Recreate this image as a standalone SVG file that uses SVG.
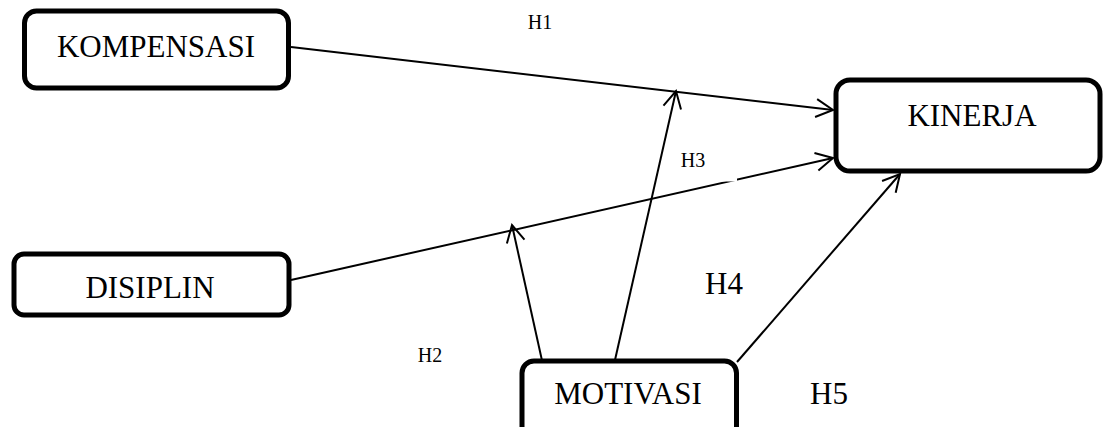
<svg xmlns="http://www.w3.org/2000/svg" width="1104" height="427" viewBox="0 0 1104 427">
  <style>
    .box { fill: #ffffff; stroke: #000000; stroke-width: 5; }
    .lbl { font-family: "Liberation Serif", "Times New Roman", serif; fill: #000000; text-anchor: middle; }
    .big { font-size: 31px; }
    .small { font-size: 20px; }
    .conn { stroke: #000000; stroke-width: 2; fill: none; }
  </style>
  <defs>
    <marker id="arrow" markerUnits="userSpaceOnUse" viewBox="-20 -12 24 24" markerWidth="24" markerHeight="24" refX="0" refY="0" orient="auto">
      <path d="M -17 -9 L 0 0 L -17 9" fill="none" stroke="#000000" stroke-width="2"/>
    </marker>
  </defs>
  <rect width="1104" height="427" fill="#ffffff"/>

  <g id="connectors">
    <line class="conn" x1="291" y1="47" x2="833" y2="110" marker-end="url(#arrow)"/>
    <line class="conn" x1="291" y1="280" x2="833" y2="158" marker-end="url(#arrow)"/>
    <line class="conn" x1="543" y1="365" x2="512" y2="225" marker-end="url(#arrow)"/>
    <line class="conn" x1="615" y1="360" x2="676" y2="91" marker-end="url(#arrow)"/>
    <line class="conn" x1="737" y1="362" x2="900" y2="174" marker-end="url(#arrow)"/>
  </g>

  <g id="label-H3">
    <rect x="670" y="146" width="67" height="35.5" fill="#ffffff"/>
    <text class="lbl small" x="693" y="167">H3</text>
  </g>
  <g id="label-H1">
    <text class="lbl small" x="540" y="29">H1</text>
  </g>
  <g id="label-H2">
    <text class="lbl small" x="430" y="362">H2</text>
  </g>
  <g id="label-H4">
    <text class="lbl big" x="724" y="294">H4</text>
  </g>
  <g id="label-H5">
    <text class="lbl big" x="829" y="404">H5</text>
  </g>

  <g id="node-kompensasi">
    <rect class="box" x="24.5" y="11" width="264" height="77" rx="12"/>
    <text class="lbl big" x="156" y="57">KOMPENSASI</text>
  </g>
  <g id="node-disiplin">
    <rect class="box" x="14" y="254" width="275" height="61" rx="10"/>
    <text class="lbl big" x="150" y="298">DISIPLIN</text>
  </g>
  <g id="node-kinerja">
    <rect class="box" x="836" y="80" width="264" height="91" rx="14"/>
    <text class="lbl big" x="972" y="126">KINERJA</text>
  </g>
  <g id="node-motivasi">
    <rect class="box" x="522" y="361" width="214.5" height="80" rx="12"/>
    <text class="lbl big" x="628" y="404">MOTIVASI</text>
  </g>
</svg>
